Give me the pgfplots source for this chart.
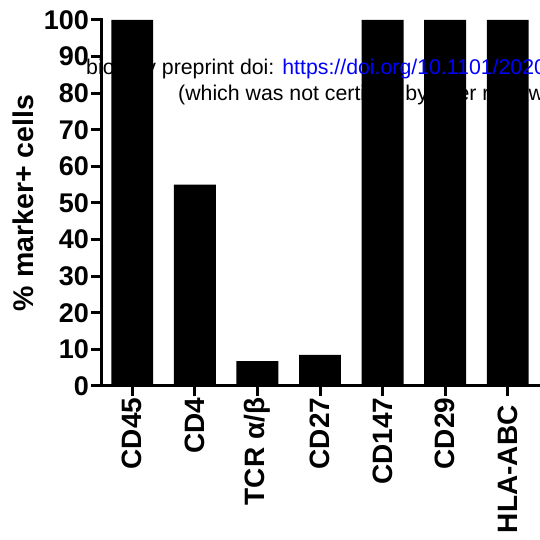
\documentclass[border=0pt]{standalone}
\usepackage{pgfplots}
\pgfplotsset{compat=1.18}
\usepackage{fontspec}
\setmainfont{Liberation Sans}
\begin{document}
\begin{tikzpicture}
\path[use as bounding box] (0pt,0pt) rectangle (539pt,540pt);
\begin{axis}[
  at={(101pt,154pt)}, anchor=south west,
  scale only axis, width=438pt, height=366pt,
  xmin=-0.5, xmax=6.5, ymin=0, ymax=100,
  axis lines=left,
  axis line style={-, line width=3pt, line cap=rect},
  ytick={0,10,...,100}, xtick={0,...,6},
  xticklabels={CD45,CD4,TCR α/β,CD27,CD147,CD29,{HLA-ABC\kern0.278em}},
  tick align=outside, major tick length=10pt,
  tick style={line width=3pt, black},
  ticklabel style={font=\fontsize{27}{27}\selectfont\bfseries},
  /pgf/number format/assume math mode=true,
  xticklabel style={rotate=90, anchor=east, inner sep=1.5pt, font=\fontsize{28}{28}\selectfont\bfseries},
  yticklabel style={inner sep=2pt},
  ylabel={\% marker+ cells},
  ylabel style={font=\fontsize{28.5}{30}\selectfont\bfseries, at={(axis description cs:-0.178,0.5)}, anchor=center},
  ybar, bar width=0.67,
]
\addplot[fill=black, draw=none] coordinates {(0,100) (1,55) (2,6.8) (3,8.5) (4,100) (5,100) (6,100)};
\end{axis}
\node[anchor=base west, inner sep=0pt, font=\fontsize{21.3}{24}\selectfont] at (86pt,465pt) {bioRxiv preprint doi: \textcolor{blue}{https://doi.org/10.1101/2020.06.05.134999}; this version posted};
\node[anchor=base west, inner sep=0pt, font=\fontsize{21.3}{24}\selectfont] at (178pt,439pt) {(which was not certified by peer review) is the author/funder};
\end{tikzpicture}
\end{document}
